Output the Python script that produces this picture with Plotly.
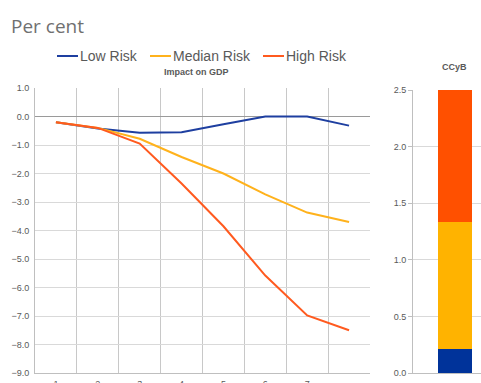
import plotly.graph_objects as go

# ---- data -------------------------------------------------------------
quarters = [1, 2, 3, 4, 5, 6, 7, 8]
quarter_labels = ["1", "2", "3", "4", "5", "6", "7", ""]

series_names = ["Low Risk", "Median Risk", "High Risk"]
low_risk = [-0.20, -0.42, -0.57, -0.55, -0.27, 0.00, 0.00, -0.32]
median_risk = [-0.20, -0.40, -0.78, -1.42, -2.00, -2.73, -3.37, -3.70]
high_risk = [-0.20, -0.40, -0.95, -2.35, -3.85, -5.58, -6.98, -7.50]

# CCyB contribution of each scenario (stacked, per cent)
ccyb_parts = [0.21, 1.12, 1.17]

line_colors = ["#1E3FA0", "#FFB21C", "#FF5A1F"]
bar_colors = ["#00339A", "#FFB300", "#FF5000"]

# ---- canvas helpers ------------------------------------------------------
W, H = 481, 383


def fx(x):
    return x / W


def fy(y):
    return 1 - y / H


GRID = "#d9d9d9"
VGRID = "#c8c8c8"
AXIS = "#bfbfbf"
TXT = "#595959"
FONT = "Liberation Sans, Arial, sans-serif"

fig = go.Figure()

for name, vals, col in zip(series_names, [low_risk, median_risk, high_risk], line_colors):
    fig.add_trace(go.Scatter(
        x=quarters, y=vals, mode="lines", name=name,
        line=dict(color=col, width=2), xaxis="x", yaxis="y",
    ))

for name, val, col in zip(series_names, ccyb_parts, bar_colors):
    fig.add_trace(go.Bar(
        x=[0], y=[val], name=name, width=1,
        marker=dict(color=col, line=dict(width=0)),
        xaxis="x2", yaxis="y2", showlegend=False,
    ))

fig.update_layout(
    width=W, height=H,
    margin=dict(l=0, r=0, t=0, b=0, autoexpand=False),
    paper_bgcolor="white", plot_bgcolor="white",
    showlegend=False, barmode="stack",
    font=dict(family=FONT, color=TXT, size=9),
    xaxis=dict(
        domain=[fx(35), fx(370)], range=[0.5, 8.5], automargin=False,
        tickmode="array", tickvals=quarters, ticktext=quarter_labels,
        showgrid=False, zeroline=False,
        showline=True, linecolor=AXIS, linewidth=1,
        minor=dict(tickvals=[q + 0.5 for q in quarters[:-1]],
                   showgrid=True, gridcolor=VGRID, gridwidth=1),
        tickfont=dict(size=9, color=TXT),
        ticks="outside", ticklen=2, tickcolor="rgba(0,0,0,0)",
    ),
    yaxis=dict(
        domain=[fy(373), fy(88)], range=[-9, 1], dtick=1, tick0=0,
        tickformat=".1f", automargin=False,
        showgrid=True, gridcolor=GRID, gridwidth=1,
        zeroline=True, zerolinecolor="#9a9a9a", zerolinewidth=1,
        showline=True, linecolor=AXIS, linewidth=1,
        ticks="outside", ticklen=3, tickcolor="rgba(0,0,0,0)",
        tickfont=dict(size=9, color=TXT),
    ),
    xaxis2=dict(
        domain=[fx(413), 1], range=[-1.235, 0.765], automargin=False,
        showticklabels=False, showgrid=False, zeroline=False,
        showline=True, linecolor=AXIS, anchor="y2",
    ),
    yaxis2=dict(
        domain=[fy(373), fy(90)], range=[0, 2.5], dtick=0.5,
        tickformat=".1f", anchor="x2", automargin=False,
        showgrid=True, gridcolor=GRID, gridwidth=1, zeroline=False,
        showline=True, linecolor=AXIS, linewidth=1,
        ticks="outside", ticklen=4, tickcolor=AXIS,
        tickfont=dict(size=9, color=TXT),
    ),
)

annotations = [
    dict(text="Per cent", x=fx(9), y=fy(26), xanchor="left", yanchor="middle",
         font=dict(family="Open Sans, sans-serif", size=19, color="#707070")),
    dict(text="<b>Impact on GDP</b>", x=fx(196), y=fy(72),
         xanchor="center", yanchor="middle", font=dict(size=9, color=TXT)),
    dict(text="<b>CCyB</b>", x=fx(454), y=fy(67),
         xanchor="center", yanchor="middle", font=dict(size=9, color=TXT)),
]

# hand-placed legend across the top
legend_y = 56
legend_x0 = [57, 150, 263]
shapes = []
for name, col, x0 in zip(series_names, line_colors, legend_x0):
    shapes.append(dict(type="line", xref="paper", yref="paper",
                       x0=fx(x0), x1=fx(x0 + 21), y0=fy(legend_y), y1=fy(legend_y),
                       line=dict(color=col, width=2)))
    annotations.append(dict(text=name, x=fx(x0 + 21), y=fy(legend_y),
                            xanchor="left", yanchor="middle",
                            font=dict(size=14, color=TXT)))

for a in annotations:
    a.update(xref="paper", yref="paper", showarrow=False)

fig.update_layout(annotations=annotations, shapes=shapes)

fig.write_html("out.html")
